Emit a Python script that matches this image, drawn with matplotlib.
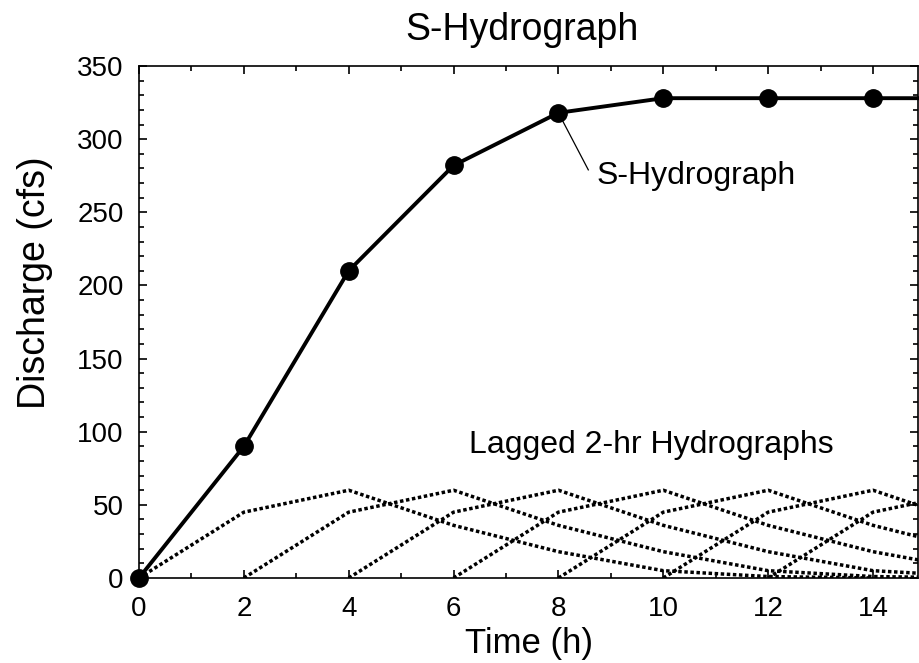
import numpy as np
import matplotlib
matplotlib.use("Agg")
import matplotlib.pyplot as plt
from matplotlib.ticker import MultipleLocator

plt.rcParams['font.family'] = ['Liberation Sans', 'DejaVu Sans']

# S-Hydrograph values (cfs) at 2-hr steps
s_time = [0, 2, 4, 6, 8, 10, 12, 14, 16]
s_flow = [0, 90, 210, 282, 318, 328, 328, 328, 328]

# 2-hr unit hydrograph ordinates (cfs), lagged by 2 h each
uh_time = [0, 2, 4, 6, 8, 10, 12, 14]
uh_flow = [0, 45, 60, 36, 18, 5, 1, 0]
lags = [0, 2, 4, 6, 8, 10, 12]

fig = plt.figure(figsize=(9.19, 6.63), dpi=100)
ax = fig.add_axes([139/919, 1 - 578/663, 1 - 139/919 - 0.001, (578 - 66)/663])

# lagged hydrographs (dotted)
for lag in lags:
    t = np.array(uh_time) + lag
    ax.plot(t, uh_flow, color="black", linewidth=2.5,
            linestyle=(0, (1, 0.75)), dash_capstyle="butt")

# S-hydrograph
ax.plot(s_time, s_flow, color="black", linewidth=2.8, marker="o",
        markersize=12.5, zorder=5, clip_on=False)

ax.set_xlim(0, 14.86)
ax.set_ylim(0, 350)
ax.xaxis.set_major_locator(MultipleLocator(2))
ax.xaxis.set_minor_locator(MultipleLocator(1))
ax.yaxis.set_major_locator(MultipleLocator(50))
ax.yaxis.set_minor_locator(MultipleLocator(10))
ax.tick_params(which="both", direction="in", top=True, right=True,
               labelsize=20, width=1.2)
ax.tick_params(which="major", length=6)
ax.tick_params(which="minor", length=3.5)
ax.tick_params(axis="x", which="major", pad=13)
ax.tick_params(axis="y", which="major", pad=11)
for sp in ax.spines.values():
    sp.set_linewidth(1.2)

# axis labels and title
fig.text(529/919, 1 - 644/663, "Time (h)", fontsize=25, ha="center", va="center")
fig.text(35/919, 1 - 283/663, "Discharge (cfs)", fontsize=27, rotation=90,
         ha="center", va="center")
fig.text(522/919, 1 - 30/663, "S-Hydrograph", fontsize=27, ha="center", va="center")

# labels
ax.plot([8, 8.57], [318, 279], color="black", linewidth=0.9)
ax.text(8.72, 275, "S-Hydrograph", fontsize=23, va="center", ha="left")
ax.text(6.3, 91, "Lagged 2-hr Hydrographs", fontsize=23, va="center", ha="left")

fig.savefig("out.png", dpi=100)
